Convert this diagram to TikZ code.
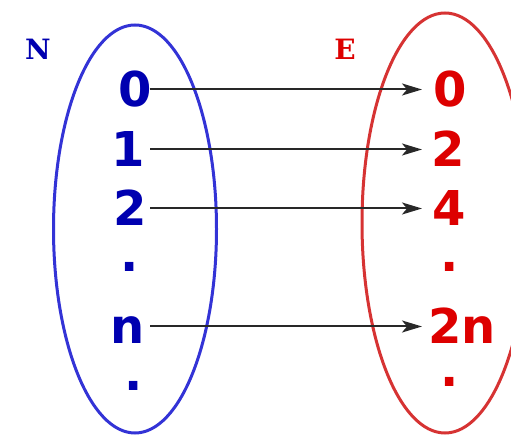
\documentclass[tikz,border=0pt]{standalone}
\usepackage{fontspec}
\setmainfont{DejaVu Sans}
\newfontfamily\serifb{DejaVu Serif}[BoldFont={DejaVu Serif Bold}]
\usetikzlibrary{arrows.meta}
\definecolor{bluedig}{RGB}{0,0,176}
\definecolor{blueell}{RGB}{51,51,214}
\definecolor{reddig}{RGB}{221,0,0}
\definecolor{redell}{RGB}{214,51,51}
\definecolor{arr}{RGB}{40,40,40}
\begin{document}
\begin{tikzpicture}[x=1pt,y=1pt,
  lbl/.style={inner sep=0pt, font=\fontsize{48}{48}\selectfont\bfseries, text height=35pt, text depth=0pt, anchor=base},
  bl/.style={lbl, text=bluedig},
  rd/.style={lbl, text=reddig},
  dotlbl/.style={inner sep=0pt, font=\fontsize{48}{48}\selectfont\bfseries, anchor=base},
  setname/.style={inner sep=0pt, font=\serifb\bfseries\fontsize{28}{28}\selectfont},
  map/.style={-{Stealth[length=20pt,width=12pt,inset=5pt]}, line width=2pt, draw=arr}]
\useasboundingbox (0,0) rectangle (511,436);
\clip (0,0) rectangle (511,436);
\draw[blueell, line width=3pt] (135,207) ellipse [x radius=81.5, y radius=204];
\draw[redell, line width=3pt] (445,213) ellipse [x radius=83, y radius=210];
\node[setname, text=bluedig] (setN) at (38,387) {N};
\node[setname, text=reddig] (setE) at (345,387) {E};
\node[bl] (b0) at (135,329) {0};
\node[bl] (b1) at (128,269) {1};
\node[bl] (b2) at (130,210) {2};
\node[dotlbl, text=bluedig] (bd1) at (130,164) {.};
\node[bl] (bn) at (128,92) {n};
\node[dotlbl, text=bluedig] (bd2) at (134,45) {.};
\node[rd] (r0) at (450,329) {0};
\node[rd] (r2) at (448,269) {2};
\node[rd] (r4) at (449,210) {4};
\node[dotlbl, text=reddig] (rd1) at (450,164) {.};
\node[rd] (r2n) at (462,92) {2n};
\node[dotlbl, text=reddig] (rd2) at (450,49) {.};
\coordinate (sx) at (150,0);
\coordinate (ex) at (422,0);
\draw[map] (b0 -| sx) -- (r0 -| ex);
\draw[map] (b1 -| sx) -- (r2 -| ex);
\draw[map] (b2 -| sx) -- (r4 -| ex);
\draw[map] (bn -| sx) -- (r2n -| ex);
\end{tikzpicture}
\end{document}
